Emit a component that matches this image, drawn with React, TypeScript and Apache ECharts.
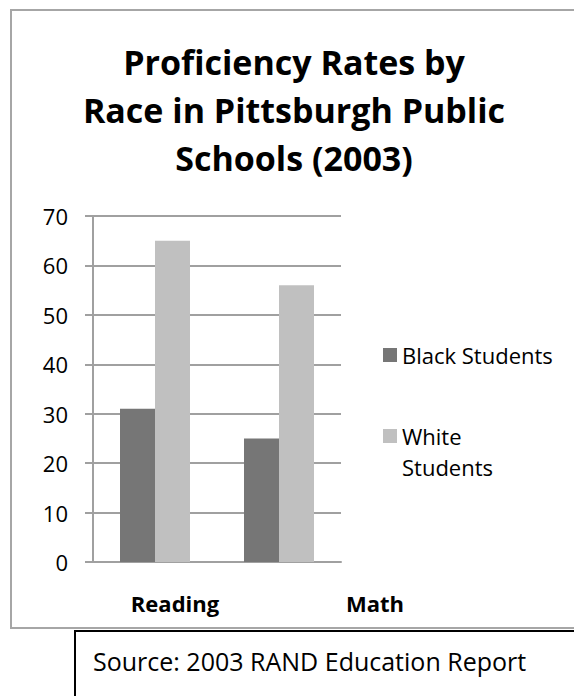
import React, { useEffect, useRef } from "react";
import * as echarts from "echarts";

const categories = ["Reading", "Math"];
const seriesNames = ["Black Students", "White Students"];
const legendLabels = ["Black Students", "White"];
const legendSecondLine = "Students";
const blackValues = [31, 25];
const whiteValues = [65, 56];
const yTicks = [0, 10, 20, 30, 40, 50, 60, 70];
const titleText = "Proficiency Rates by\nRace in Pittsburgh Public\nSchools (2003)";
const sourceText = "Source: 2003 RAND Education Report";

export default function App() {
  const ref = useRef<HTMLDivElement>(null);
  useEffect(() => {
    if (!ref.current) return;
    const chart = echarts.init(ref.current, null, { renderer: "svg" });
    const font = "'Open Sans', 'DejaVu Sans', sans-serif";
    chart.setOption({
      animation: false,
      backgroundColor: "#ffffff",
      textStyle: { fontFamily: font },
      title: {
        text: titleText,
        left: 294,
        top: 38,
        padding: 0,
        textAlign: "center",
        textStyle: { fontFamily: font, fontSize: 34, fontWeight: "bold", color: "#000", lineHeight: 48 },
      },
      legend: [
        {
          data: [seriesNames[0]],
          orient: "vertical",
          left: 383,
          top: 344,
          padding: 0,
          icon: "rect",
          itemWidth: 14,
          itemHeight: 14,
          formatter: () => legendLabels[0],
          textStyle: { fontFamily: font, fontSize: 22, color: "#000" },
        },
        {
          data: [seriesNames[1]],
          orient: "vertical",
          left: 383,
          top: 425,
          padding: 0,
          icon: "rect",
          itemWidth: 14,
          itemHeight: 14,
          formatter: () => legendLabels[1],
          textStyle: { fontFamily: font, fontSize: 22, color: "#000" },
        },
      ],
      grid: { left: 93, right: 233, top: 216, bottom: 134, containLabel: false },
      xAxis: {
        type: "category",
        data: categories,
        axisLine: { show: true, lineStyle: { color: "#a0a0a0", width: 2 } },
        axisTick: { show: false },
        axisLabel: {
          margin: 30,
          formatter: (v: string) => (v === categories[0] ? `{r|${v}}` : `{m|${v}}`),
          rich: {
            r: { fontFamily: font, fontSize: 22, fontWeight: "bold", color: "#000", padding: [0, 0, 0, 40] },
            m: { fontFamily: font, fontSize: 22, fontWeight: "bold", color: "#000", padding: [0, 0, 0, 192] },
          },
        },
      },
      yAxis: {
        type: "value",
        min: yTicks[0],
        max: yTicks[yTicks.length - 1],
        interval: 10,
        axisLine: { show: true, lineStyle: { color: "#a0a0a0", width: 2 } },
        axisTick: { show: true, inside: false, length: 8, lineStyle: { color: "#a0a0a0", width: 2 } },
        splitLine: { show: true, lineStyle: { color: "#a0a0a0", width: 2 } },
        axisLabel: { margin: 25, fontFamily: font, fontSize: 22, color: "#000" },
      },
      series: [
        {
          name: seriesNames[0],
          type: "bar",
          data: blackValues,
          barWidth: 35,
          barGap: "0%",
          itemStyle: { color: "#767676" },
        },
        {
          name: seriesNames[1],
          type: "bar",
          data: whiteValues,
          barWidth: 35,
          barGap: "0%",
          itemStyle: { color: "#c0c0c0" },
        },
      ],
      graphic: [
        {
          type: "rect",
          shape: { x: 11, y: 10, width: 580, height: 618 },
          style: { fill: "none", stroke: "#a6a6a6", lineWidth: 2 },
          silent: true,
          z: -1,
        },
        {
          type: "text",
          x: 402,
          y: 467,
          style: { text: legendSecondLine, fontFamily: font, fontSize: 22, fill: "#000", verticalAlign: "middle" },
        },
        {
          type: "rect",
          shape: { x: 75, y: 631, width: 520, height: 80 },
          style: { fill: "#fff", stroke: "#000", lineWidth: 2 },
          silent: true,
        },
        {
          type: "text",
          x: 93,
          y: 661,
          style: { text: sourceText, fontFamily: font, fontSize: 25, fill: "#000", verticalAlign: "middle" },
        },
      ],
    });
    return () => chart.dispose();
  }, []);
  return <div ref={ref} style={{ position: "absolute", left: 0, top: 0, width: 574, height: 696 }} />;
}
